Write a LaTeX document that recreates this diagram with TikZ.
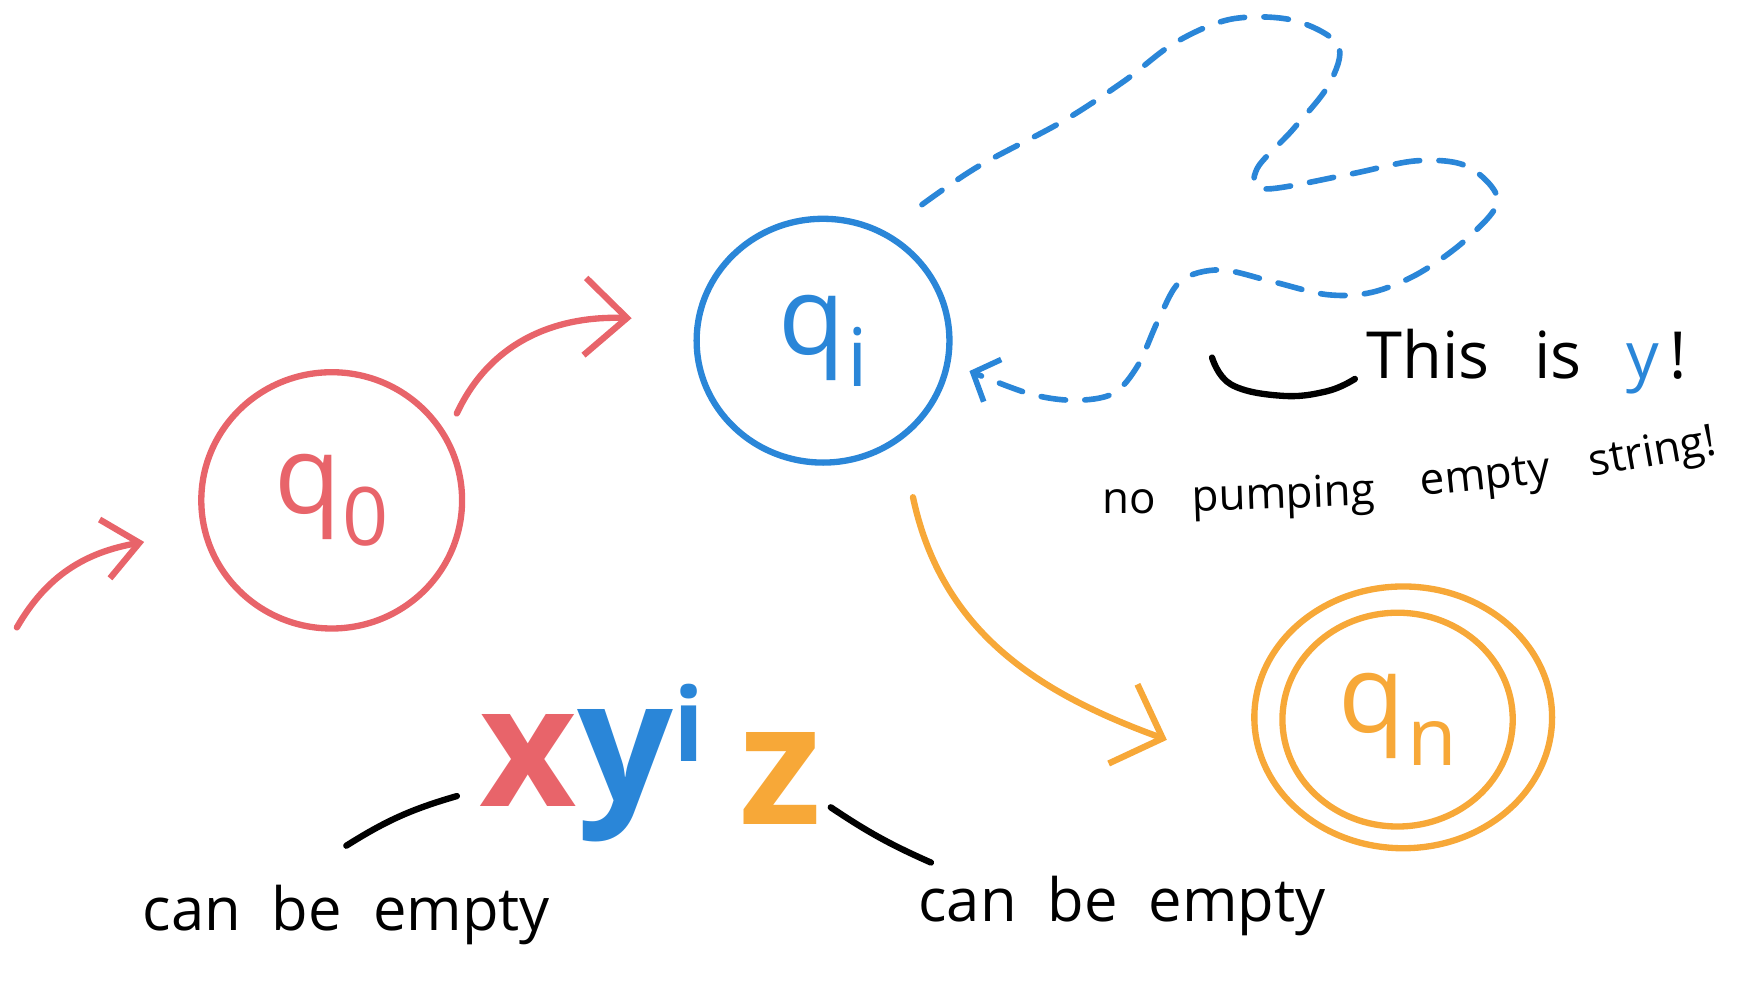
\documentclass[tikz,border=0pt]{standalone}
\usepackage{fontspec}
\setmainfont{Open Sans}
\usetikzlibrary{shapes.geometric,arrows.meta}
\definecolor{qred}{HTML}{E8646A}
\definecolor{qblue}{HTML}{2A86D8}
\definecolor{qorange}{HTML}{F7A838}
\newcommand{\qsub}[1]{\kern1pt\raisebox{-0.3em}{\fontsize{46}{46}\selectfont #1}}
\begin{document}
\begin{tikzpicture}[x=0.0225cm,y=-0.0225cm,
  pen/.style={line width=3.6pt,line cap=round,line join=round},
  state/.style={ellipse,draw,pen,inner sep=0pt,font=\fontsize{62}{62}\selectfont},
  hand/.style={font=\fontsize{34}{40}\selectfont,inner sep=0pt},
  word/.style={font=\fontsize{25}{28}\selectfont,inner sep=0pt,anchor=base},
  big/.style={font=\fontsize{96}{96}\selectfont\bfseries,inner sep=0pt},
  dashloop/.style={pen,line width=3.2pt,dash pattern=on 14pt off 11pt},
]
\useasboundingbox (0,0) rectangle (1568,880);
% states
\node[state,draw=qred,text=qred,minimum width=5.22cm,minimum height=5.13cm] (q0) at (295,445) {q\qsub{0}};
\node[state,draw=qblue,text=qblue,minimum width=5.06cm,minimum height=4.88cm] (q1) at (732,303) {q\qsub{i}};
\node[state,draw=qorange,minimum width=5.96cm,minimum height=5.24cm] (qn) at (1248,638) {};
\node[state,draw=qorange,text=qorange,minimum width=4.61cm,minimum height=4.28cm] (qni) at (1243,640) {q\qsub{n}};
% incoming arrow
\coordinate (in0) at (15,558);
\draw[pen,qred,-{Straight Barb[length=20pt,width=34pt]}] (in0) to[out=60,in=190] ([shift={(-48,37)}]q0.west);
% q0 -> q1
\draw[pen,qred,-{Straight Barb[length=24pt,width=44pt]}] ([shift={(28,6)}]q0.45) to[out=65,in=178] ([shift={(-55,-20)}]q1.west);
% q1 -> qn
\draw[pen,qorange,-{Straight Barb[length=24pt,width=48pt]}] ([shift={(80,28)}]q1.south) to[out=-78,in=160] ([shift={(-75,20)}]qn.west);
% dashed self loop
\coordinate (ls) at (820,182);
\draw[dashloop,qblue,-{Straight Barb[length=12pt,width=26pt]}] plot[smooth,tension=0.55] coordinates {(ls) (870,148) (945,108) (1000,72) (1045,38) (1095,17) (1150,18) (1190,40) (1182,75) (1150,115) (1118,150) (1125,168) (1200,155) (1260,143) (1305,148) (1332,178) (1305,212) (1262,243) (1220,260) (1180,262) (1130,250) (1085,240) (1050,250) (1030,285) (1012,325) (990,350) (955,356) (915,350) ([shift={(15,27)}]q1.east)};
% brace
\node[hand,anchor=west,font=\fontsize{37}{40}\selectfont] (this) at (1215,322) {This \,\ is \,\ {\color{qblue}y}\,!};
\coordinate (bs) at (1078,318);
\draw[pen,black] plot[smooth,tension=0.7] coordinates {(bs) (1095,342) (1140,352) (1180,348) ([shift={(-10,15)}]this.west)};
% no pumping empty string!
\node[word] (w1) at (1004,457) {no};
\node[word,rotate=2] (w2) at (1142,452) {pumping};
\node[word,rotate=6] (w3) at (1322,435) {empty};
\node[word,rotate=10] (w4) at (1472,414) {string!};
% xy^iz
\node[big,text=qred] (xc) at (470,676) {x};
\node[big,text=qblue] (yc) at (556,690) {y};
\node[font=\fontsize{58}{58}\selectfont\bfseries,inner sep=0pt,text=qblue] (ic) at (613,643) {i};
\node[big,text=qorange] (zc) at (694,692) {z};
% can be empty
\node[hand] (ce1) at (308,814) {can \ be \ empty};
\node[hand] (ce2) at (998,806) {can \ be \ empty};
\draw[pen,black] ([shift={(0,-35)}]ce1.north) to[bend left=8] ([shift={(-20,32)}]xc.west);
\draw[pen,black] ([shift={(8,26)}]zc.east) to[bend left=-5] ([shift={(-170,-12)}]ce2.north);
\end{tikzpicture}
\end{document}
